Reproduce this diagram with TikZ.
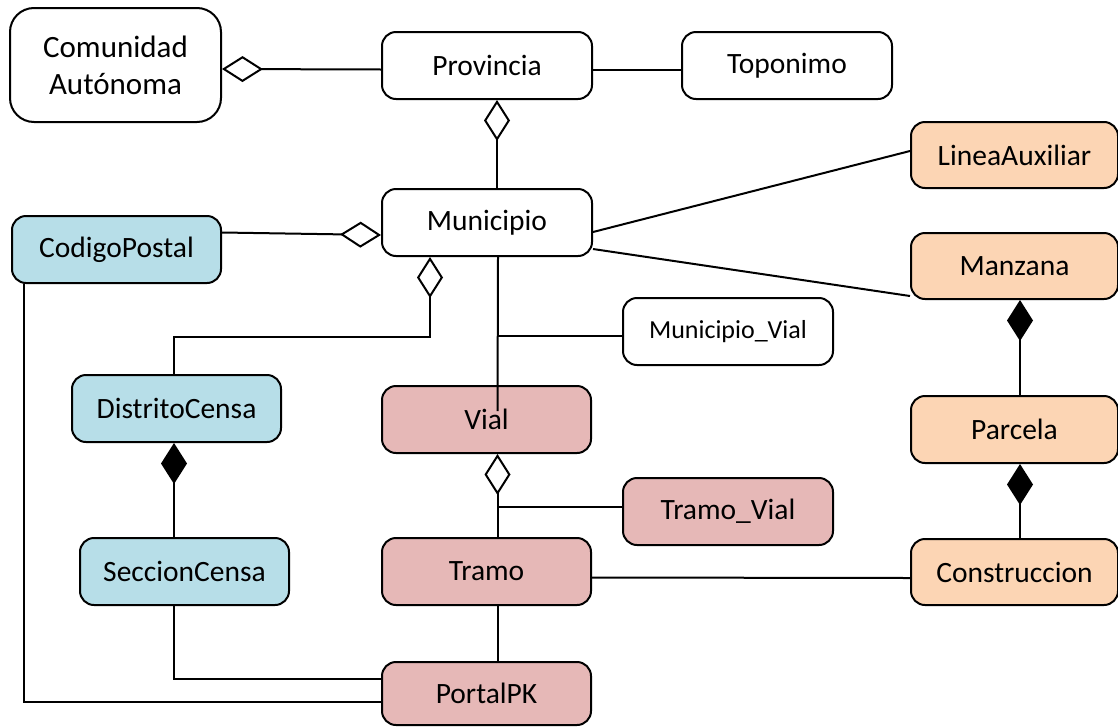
\documentclass[tikz,border=0pt]{standalone}
\usepackage{fontspec}
\setmainfont{Carlito}
\usetikzlibrary{arrows.meta}
\definecolor{azul}{HTML}{B7DEE8}
\definecolor{rosa}{HTML}{E6B8B7}
\definecolor{naranja}{HTML}{FCD5B4}
\begin{document}
\begin{tikzpicture}[
    x=1pt, y=-1pt,
    line width=2pt,
    clase/.style={draw, rounded corners=14pt, minimum width=210pt,
                  minimum height=67pt, inner sep=0pt, align=center,
                  font=\fontsize{29.5}{37}\selectfont},
    agg/.style={{Diamond[open, length=41pt, width=26pt]}-},
    comp/.style={{Diamond[length=41pt, width=26pt]}-}
]
\useasboundingbox (0,0) rectangle (1118,726);

\node (comunidad) [clase, rounded corners=24pt, minimum width=211pt, minimum height=114pt,
    font=\fontsize{31}{37}\selectfont] at (115.5,65) {Comunidad\\Autónoma};
\node (provincia) [clase] at (487,65.5) {Provincia};
\node (toponimo) [clase] at (787,65.5) {Toponimo};
\node (municipio) [clase] at (487,222.5) {Municipio};
\node (codigopostal) [clase, fill=azul, minimum width=209pt] at (116.5,249.5) {CodigoPostal};
\node (lineaauxiliar) [clase, fill=naranja, minimum width=207pt, minimum height=66pt] at (1014.5,155) {LineaAuxiliar};
\node (manzana) [clase, fill=naranja, minimum width=207pt, minimum height=66pt] at (1014.5,266) {Manzana};
\node (municipiovial) [clase, font=\fontsize{26}{30}\selectfont] at (728,331.5) {Municipio\_Vial};
\node (distrito) [clase, fill=azul, minimum width=209pt] at (176.5,408.5) {DistritoCensa};
\node (vial) [clase, fill=rosa, minimum width=209pt] at (486.5,419.5) {Vial};
\node (parcela) [clase, fill=naranja, minimum width=207pt] at (1014.5,429.5) {Parcela};
\node (tramovial) [clase, fill=rosa] at (728,511.5) {Tramo\_Vial};
\node (seccion) [clase, fill=azul, minimum width=209pt] at (184.5,571.5) {SeccionCensa};
\node (tramo) [clase, fill=rosa, minimum width=209pt] at (486.5,571.5) {Tramo};
\node (construccion) [clase, fill=naranja, minimum width=207pt, minimum height=66pt] at (1014.5,572) {Construccion};
\node (portal) [clase, fill=rosa, minimum width=209pt, minimum height=63pt] at (486.5,693.5) {PortalPK};

\coordinate (mvjoin) at (498,336);
\coordinate (tvjoin) at (498,507);

\draw [agg] ([yshift=-4pt]comunidad.east) -- ([yshift=-4pt]provincia.west);
\draw ([yshift=-4pt]provincia.east) -- ([yshift=-4pt]toponimo.west);
\draw [agg] ([xshift=10pt]provincia.south) -- ([xshift=10pt]municipio.north);
\draw [agg] ([yshift=-12.5pt]municipio.west) -- ([yshift=17pt]codigopostal.east);
\draw ([yshift=-9.5pt]municipio.east) -- ([yshift=4pt]lineaauxiliar.west);
\draw ([yshift=-26.5pt]municipio.east) -- ([yshift=-30pt]manzana.west);
\draw [agg] ([xshift=-57pt]municipio.south) -- ++(0,80) -| ([xshift=-2.5pt]distrito.north);
\draw ([xshift=11pt]municipio.south) -- ([xshift=11pt,yshift=-26pt]vial.north);
\draw (mvjoin) -- (mvjoin -| municipiovial.west);
\draw [agg] ([xshift=11pt]vial.south) -- ([xshift=11pt]tramo.north);
\draw (tvjoin) -- (tvjoin -| tramovial.west);
\draw [comp] ([xshift=-2.5pt]distrito.south) -- ([xshift=-2.5pt]distrito.south |- seccion.north);
\draw ([xshift=-10.5pt]seccion.south) |- ([yshift=14.5pt]portal.west);
\draw ([xshift=-92.5pt]codigopostal.south) |- ([yshift=-8.5pt]portal.west);
\draw ([xshift=11pt]tramo.south) -- ([xshift=11pt]portal.north);
\draw ([yshift=-6pt]tramo.east) -- ([yshift=-6pt]construccion.west);
\draw [comp] ([xshift=5.5pt]manzana.south) -- ([xshift=5.5pt]parcela.north);
\draw [comp] ([xshift=5.5pt]parcela.south) -- ([xshift=5.5pt]construccion.north);
\end{tikzpicture}
\end{document}
